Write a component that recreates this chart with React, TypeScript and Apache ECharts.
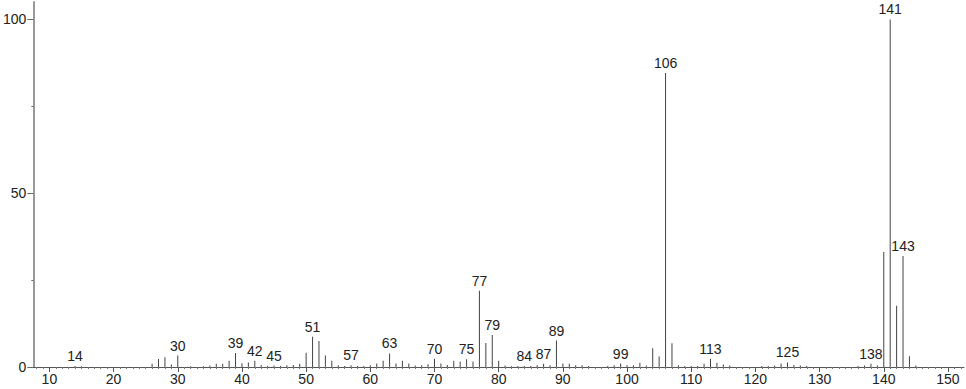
import React, { useEffect, useRef } from "react";
import * as echarts from "echarts";

const mzValues: number[] = [
  14, 15, 26, 27, 28, 29, 30, 32, 34, 35, 36, 37, 38, 39, 40, 41, 42, 43, 44, 45,
  46, 47, 48, 49, 50, 51, 52, 53, 54, 55, 56, 57, 58, 59, 60, 61, 62, 63, 64, 65,
  66, 67, 68, 69, 70, 71, 72, 73, 74, 75, 76, 77, 78, 79, 80, 81, 82, 83, 84, 85,
  86, 87, 88, 89, 90, 91, 92, 93, 94, 97, 98, 99, 100, 101, 102, 103, 104, 105, 106, 107,
  108, 109, 110, 111, 112, 113, 114, 115, 116, 121, 122, 123, 124, 125, 126, 127, 128, 136, 137, 138,
  139, 140, 141, 142, 143, 144, 145,
];
const intensities: number[] = [
  0.3, 0.2, 0.9, 2.3, 2.8, 0.7, 3.3, 0.2, 0.2, 0.4, 0.9, 0.95, 1.8, 4.0, 1.1, 1.3, 1.8, 0.6, 0.3, 0.4,
  0.3, 0.5, 0.6, 0.95, 4.1, 8.7, 7.5, 3.3, 1.8, 0.5, 0.3, 0.5, 0.3, 0.3, 0.5, 1.0, 1.8, 3.9, 1.0, 1.8,
  1.0, 0.4, 0.5, 0.8, 2.4, 1.0, 0.6, 1.8, 1.6, 2.2, 1.6, 21.9, 6.9, 9.2, 1.8, 0.4, 0.2, 0.3, 0.3, 0.3,
  0.5, 0.9, 0.5, 7.6, 1.0, 0.9, 0.5, 0.5, 0.3, 0.3, 0.5, 1.0, 0.5, 0.5, 1.2, 0.4, 5.4, 3.0, 84.6, 6.8,
  0.5, 0.3, 0.3, 0.3, 0.9, 2.4, 1.2, 0.7, 0.4, 0.3, 0.3, 0.4, 1.0, 1.3, 0.6, 0.4, 0.3, 0.3, 0.4, 0.9,
  0.4, 33.1, 100, 17.6, 31.9, 3.1, 0.4,
];
const labeledPeaks: number[] = [
  14, 30, 39, 42, 45, 51, 57, 63, 70, 75, 77, 79, 84, 87, 89, 99, 106, 113, 125, 138, 141, 143,
];
const xTickLabels: number[] = [10, 20, 30, 40, 50, 60, 70, 80, 90, 100, 110, 120, 130, 140, 150];
const xMinorTicks: number[] = Array.from({ length: 145 }, (_, i) => i + 8).filter((v) => v % 10 !== 0);
const yTickLabels: number[] = [0, 50, 100];
const yMinorTicks: number[] = [25, 75];

const FONT = "'Liberation Sans', Arial, sans-serif";

export default function App() {
  const ref = useRef<HTMLDivElement>(null);
  useEffect(() => {
    if (!ref.current) return;
    const chart = echarts.init(ref.current, undefined, { renderer: "svg" });
    const data = mzValues.map((mz, i) => [mz, intensities[i]]);
    const axisCommon = { min: 7.5, max: 152.5 };
    chart.setOption({
      animation: false,
      backgroundColor: "#ffffff",
      grid: { left: 29, right: 2, top: 2, bottom: 22, containLabel: false },
      xAxis: [
        {
          type: "value",
          ...axisCommon,
          axisLine: { show: true, lineStyle: { color: "#555", width: 1 } },
          axisTick: { show: true, length: 5, customValues: xTickLabels, lineStyle: { color: "#555" } },
          axisLabel: {
            show: true,
            customValues: xTickLabels,
            margin: 5,
            color: "#222",
            fontSize: 14,
            fontFamily: FONT,
          },
          splitLine: { show: false },
        },
        {
          type: "value",
          ...axisCommon,
          position: "bottom",
          axisLine: { show: false },
          axisTick: { show: true, length: 2, customValues: xMinorTicks, lineStyle: { color: "#777" } },
          axisLabel: { show: false },
          splitLine: { show: false },
        },
      ],
      yAxis: [
        {
          type: "value",
          min: 0,
          max: 105,
          axisLine: { show: true, lineStyle: { color: "#999", width: 2 } },
          axisTick: { show: true, length: 6, customValues: yTickLabels, lineStyle: { color: "#666" } },
          axisLabel: {
            show: true,
            customValues: yTickLabels,
            margin: 7,
            color: "#222",
            fontSize: 14,
            fontFamily: FONT,
          },
          splitLine: { show: false },
        },
        {
          type: "value",
          min: 0,
          max: 105,
          position: "left",
          axisLine: { show: false },
          axisTick: { show: true, length: 2, customValues: yMinorTicks, lineStyle: { color: "#666" } },
          axisLabel: { show: false },
          splitLine: { show: false },
        },
      ],
      series: [
        {
          type: "custom",
          xAxisIndex: 0,
          yAxisIndex: 0,
          data,
          renderItem: (params: any, api: any) => {
            const mz = api.value(0);
            const v = api.value(1);
            const base = api.coord([mz, 0]);
            const top = api.coord([mz, v]);
            const h = Math.max(base[1] - top[1], 0.5);
            const el: any = {
              type: "rect",
              shape: { x: base[0] - 0.5, y: base[1] - h, width: 1, height: h },
              style: { fill: "#444" },
            };
            if (labeledPeaks.includes(mz)) {
              el.textContent = {
                style: {
                  text: String(mz),
                  fill: "#222",
                  fontSize: 14,
                  fontFamily: FONT,
                },
              };
              el.textConfig = { position: "top", distance: 3 };
            }
            return el;
          },
        },
      ],
    });
    return () => chart.dispose();
  }, []);
  return (
    <div
      ref={ref}
      style={{ position: "absolute", left: 0, top: 0, width: 966, height: 389 }}
    />
  );
}
